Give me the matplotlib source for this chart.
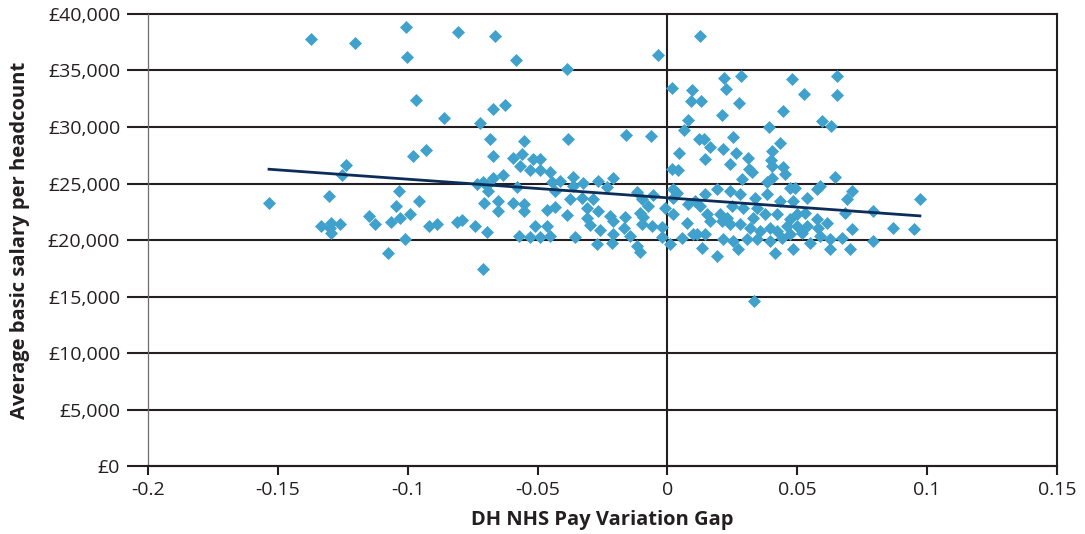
import numpy as np
import matplotlib
matplotlib.use("Agg")
import matplotlib.pyplot as plt
from matplotlib.ticker import FuncFormatter

# pay variation gap vs average basic salary
gap = [
    -0.1373, -0.1203, -0.1007, -0.1004, -0.0808, -0.0662, -0.0582, -0.0386, -0.0037, 0.0125,
    -0.0968, -0.0862, -0.0670, -0.0625, -0.0720, -0.0683, -0.0553, -0.0384, -0.0161, -0.0065,
    -0.0981, -0.0929, -0.0673, -0.0594, -0.0559, -0.0517, -0.0491, -0.0566, -0.1238, -0.1252,
    -0.1534, -0.1303, -0.1334, -0.1296, -0.1300, -0.1295, -0.1261, -0.1150, -0.1126, -0.1076,
    -0.1065, -0.1045, -0.1034, -0.1030, -0.0992, -0.1011, -0.0956, -0.0918, -0.0888, -0.0809,
    -0.0791, -0.0740, -0.0708, -0.0696, -0.0711, -0.0732, -0.0696, -0.0689, -0.0671, -0.0632,
    -0.0581, -0.0709, -0.0652, -0.0652, -0.0595, -0.0551, -0.0554, -0.0510, -0.0465, -0.0572,
    -0.0529, -0.0491, -0.0452, -0.0465, -0.0433, -0.0531, -0.0491, -0.0451, -0.0446, -0.0414,
    -0.0433, -0.0364, -0.0365, -0.0325, -0.0266, -0.0209, -0.0234, -0.0374, -0.0330, -0.0286,
    -0.0311, -0.0266, -0.0388, -0.0356, -0.0311, -0.0298, -0.0260, -0.0273, -0.0221, -0.0209,
    -0.0164, -0.0166, -0.0209, -0.0212, -0.0144, -0.0119, -0.0106, -0.0119, -0.0074, -0.0106,
    -0.0094, -0.0099, -0.0058, -0.0055, -0.0099, -0.0022, -0.0010, -0.0022, 0.0010, 0.0022,
    0.0035, 0.0022, 0.0022, 0.0055, 0.0080, 0.0074, 0.0099, 0.0016, 0.0042, 0.0016,
    0.0096, 0.0089, 0.0131, 0.0080, 0.0062, 0.0121, 0.0139, 0.0164, 0.0144, 0.0044,
    0.0216, 0.0282, 0.0226, 0.0277, 0.0209, 0.0392, 0.0213, 0.0251, 0.0265, 0.0241,
    0.0311, 0.0314, 0.0327, 0.0289, 0.0382, 0.0401, 0.0397, 0.0478, 0.0525, 0.0652,
    0.0652, 0.0444, 0.0594, 0.0631, 0.0432, 0.0446, 0.0401, 0.0452, 0.0401, 0.0645,
    0.0472, 0.0491, 0.0575, 0.0587, 0.0709, 0.0693, 0.0972, 0.0790, 0.0683, 0.0870,
    0.0949, 0.0790, 0.0709, 0.0703, 0.0626, 0.0671, 0.0626, 0.0587, 0.0536, 0.0484,
    0.0433, 0.0384, 0.0337, 0.0279, 0.0241, 0.0189, 0.0144, 0.0106, 0.0125, 0.0151,
    0.0202, 0.0247, 0.0292, 0.0343, 0.0375, 0.0420, 0.0472, 0.0497, 0.0529, 0.0575,
    0.0613, 0.0581, 0.0536, 0.0497, 0.0459, 0.0420, 0.0395, 0.0356, 0.0318, 0.0279,
    0.0241, 0.0209, 0.0164, 0.0112, 0.0144, 0.0215, 0.0253, 0.0305, 0.0343, 0.0395,
    0.0440, 0.0472, 0.0517, 0.0549, 0.0484, 0.0414, 0.0273, 0.0189, 0.0132, 0.0330,
    0.0228, 0.0333,
]
salary = [
    37810, 37450, 38870, 36180, 38370, 38050, 35940, 35120, 36410, 38050,
    32350, 30810, 31550, 31930, 30380, 28910, 28800, 28950, 29310, 29200,
    27440, 27970, 27450, 27250, 27580, 27130, 27130, 26560, 26630, 25710,
    23310, 23890, 21270, 21540, 21080, 20620, 21390, 22130, 21460, 18820,
    21590, 23010, 24340, 21920, 22280, 20130, 23460, 21240, 21390, 21590,
    21740, 21270, 23310, 20680, 17440, 24940, 24870, 24340, 25530, 25780,
    24650, 25090, 23460, 22610, 23310, 23160, 22540, 21240, 21240, 20320,
    20280, 20280, 20350, 22690, 22940, 26160, 26200, 26050, 25160, 25230,
    24340, 25580, 24820, 25050, 25230, 25510, 24650, 23610, 23730, 23610,
    22870, 22610, 22230, 20280, 21920, 21320, 20870, 19610, 22130, 21680,
    22050, 21030, 20500, 19760, 20320, 19480, 18950, 24270, 23010, 22430,
    22050, 21390, 21240, 23980, 23610, 21120, 22830, 20280, 19610, 24470,
    24200, 23760, 22280, 20210, 23160, 21540, 20500, 26270, 26230, 33440,
    33300, 32280, 32310, 30640, 29710, 28910, 28930, 28200, 27160, 27670,
    34350, 34480, 33330, 32100, 31020, 30040, 28050, 29080, 27670, 26730,
    27230, 26270, 25980, 25380, 25090, 27910, 27070, 34240, 32940, 34550,
    32790, 31390, 30560, 30090, 28600, 26420, 26560, 25830, 25530, 25560,
    24600, 24600, 24500, 24790, 24320, 23610, 23610, 22600, 22430, 21060,
    20950, 19940, 20950, 19170, 19170, 20210, 20060, 20350, 23760, 23460,
    23460, 24050, 23760, 24050, 24340, 24500, 24050, 23460, 23010, 22280,
    22280, 23010, 22870, 22870, 22280, 22280, 21830, 22280, 22430, 21830,
    21540, 21100, 21240, 21240, 21240, 20790, 21100, 20790, 21100, 21390,
    21390, 21680, 21680, 20500, 20500, 20060, 19910, 20060, 20060, 19910,
    20210, 20500, 20650, 19760, 19170, 18880, 19170, 18580, 19320, 21980,
    21980, 14620,
]

# linear trend as drawn on the reference
trend_slope = -16475
trend_intercept = 23735

x_ticks = [-0.2, -0.15, -0.1, -0.05, 0, 0.05, 0.1, 0.15]
x_tick_labels = ["-0.2", "-0.15", "-0.1", "-0.05", "0", "0.05", "0.1", "0.15"]
y_ticks = [0, 5000, 10000, 15000, 20000, 25000, 30000, 35000, 40000]

plt.rcParams['font.family'] = ['Open Sans', 'DejaVu Sans']
ink = '#231f20'

fig = plt.figure(figsize=(10.85, 5.34), dpi=100)
ax = fig.add_axes([0.1364, 0.1273, 0.9742 - 0.1364, 0.9738 - 0.1273])

ax.scatter(gap, salary, marker='D', s=44, color='#3fa1cc', linewidths=0, zorder=3)

gx = np.array([min(gap), max(gap)])
ax.plot(gx, trend_slope * gx + trend_intercept, color='#0c2d5a', lw=2.0, zorder=4)

ax.axvline(0, color=ink, lw=1.5, zorder=2)

ax.set_xlim(-0.2, 0.15)
ax.set_ylim(0, 40000)
ax.set_xticks(x_ticks)
ax.set_xticklabels(x_tick_labels)
ax.set_yticks(y_ticks)
ax.yaxis.set_major_formatter(FuncFormatter(lambda v, p: f"£{int(v):,}"))

ax.grid(True, axis='y', color=ink, lw=1.5, zorder=1)
ax.set_axisbelow(True)

ax.spines['top'].set_visible(False)
ax.spines['left'].set_color('#6d6d6d')
ax.spines['left'].set_linewidth(0.9)
ax.spines['right'].set_color(ink)
ax.spines['right'].set_linewidth(1.5)
ax.spines['bottom'].set_color(ink)
ax.spines['bottom'].set_linewidth(1.5)

ax.tick_params(axis='y', length=15, width=1.5, color=ink, labelsize=14, labelcolor=ink, pad=5)
ax.tick_params(axis='x', length=6.5, width=1.5, color=ink, labelsize=14, labelcolor=ink, pad=4)

ax.set_xlabel("DH NHS Pay Variation Gap", fontsize=14.5, fontweight='bold', color=ink, labelpad=8)
ax.set_ylabel("Average basic salary per headcount", fontsize=14.5, fontweight='bold', color=ink, labelpad=13)

# top gridline sits on the edge of the plot area
for line in ax.get_ygridlines():
    line.set_clip_on(False)

fig.savefig("out.png", dpi=100)
